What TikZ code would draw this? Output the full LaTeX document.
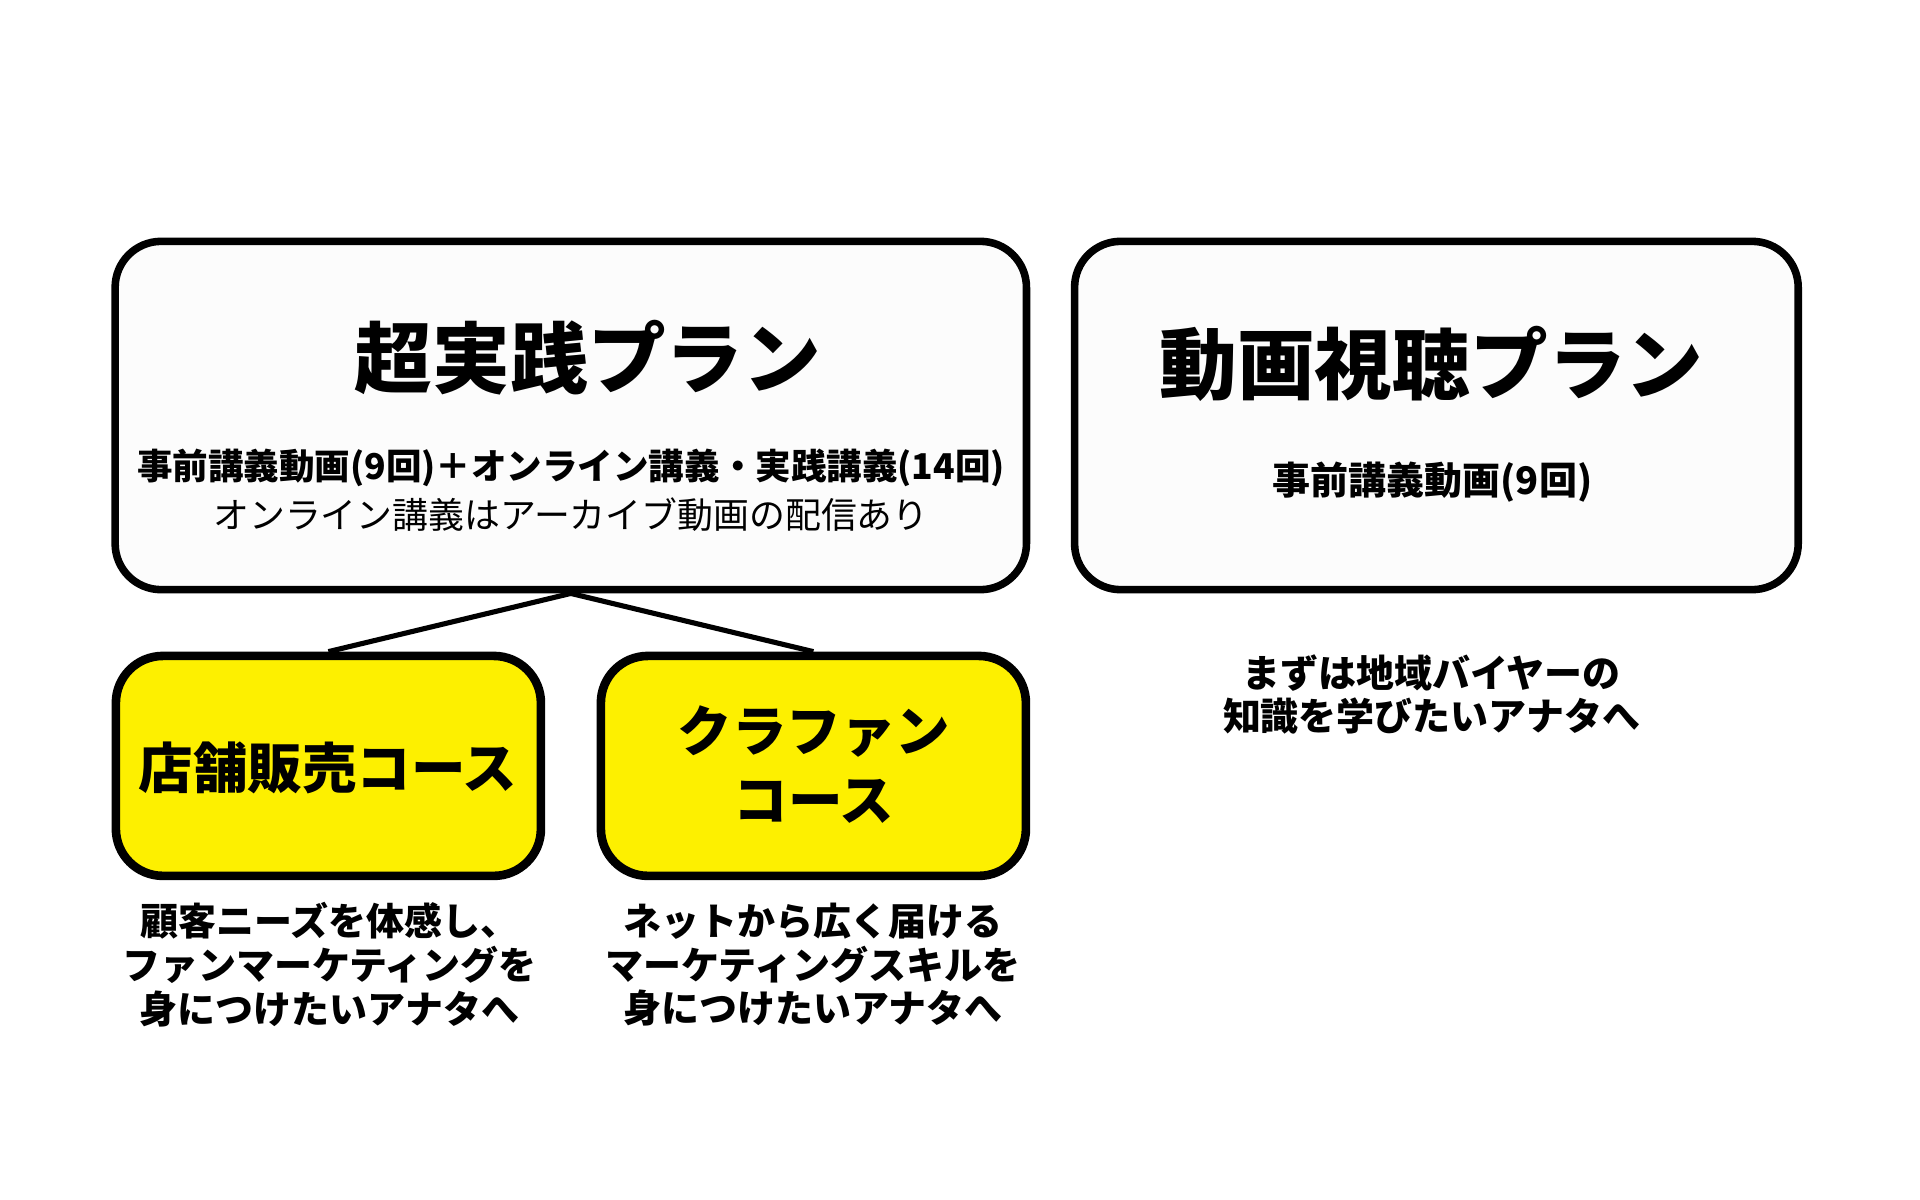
\documentclass[tikz,border=0pt]{standalone}
\usepackage{fontspec}
\setmainfont{Noto Sans CJK JP}
\usetikzlibrary{positioning}

\definecolor{boxwhite}{RGB}{252,252,252}
\definecolor{courseyellow}{RGB}{253,240,0}

\tikzset{
	planbox/.style={draw=black, line width=2.15pt, fill=boxwhite,
		rounded corners=0.46cm, inner sep=0pt, minimum height=3.481cm},
	coursebox/.style={draw=black, line width=2.45pt, fill=courseyellow,
		rounded corners=0.47cm, inner sep=0pt, minimum height=2.198cm,
		minimum width=4.248cm},
	link/.style={line width=1.45pt},
	bigtitle/.style={font=\bfseries\fontsize{22.1pt}{26pt}\selectfont, inner sep=0pt},
	coursetitle/.style={font=\bfseries\fontsize{15.5pt}{19.6pt}\selectfont, align=center, inner sep=0pt},
	subbold/.style={font=\bfseries\fontsize{10.1pt}{12pt}\selectfont, inner sep=0pt},
	subthin/.style={font=\fontsize{10.2pt}{12pt}\selectfont, inner sep=0pt},
	target/.style={font=\bfseries\fontsize{10.8pt}{12.4pt}\selectfont, align=center, inner sep=0pt},
}

\begin{document}
\begin{tikzpicture}[x=0.01cm, y=-0.01cm]

% canvas %{{{1

	\fill[white] (0,0) rectangle (1920,1200);
	\useasboundingbox (0,0) rectangle (1920,1200);

% boxes %{{{1

	\node[planbox, minimum width=9.108cm] (plan) at (570.8,415.5) {};
	\node[planbox, minimum width=7.232cm] (video) at (1436.4,415.5) {};

	\node[coursebox] (shop) at (328.4,765.9) {};
	\node[coursebox] (crowd) at (813.4,765.9) {};

% connectors %{{{1

	\draw[link] (plan.south) -- (shop.north);
	\draw[link] (plan.south) -- (crowd.north);

% box texts %{{{1

	\node[bigtitle] (plantitle) at (588,358) {超実践プラン};
	\node[subbold] (planline) at (571,467.7) {事前講義動画(9回)＋オンライン講義・実践講義(14回)};
	\node[subthin] (plannote) at (571,514.5) {オンライン講義はアーカイブ動画の配信あり};

	\node[bigtitle] (videotitle) at (1431.5,364) {動画視聴プラン};
	\node[subbold, font=\bfseries\fontsize{10.8pt}{12pt}\selectfont] (videoline) at (1432.6,482.5) {事前講義動画(9回)};

	\node[coursetitle] (shoptitle) at (328,767.5) {店舗販売コース};
	\node[coursetitle] (crowdtitle) at (814,765) {クラファン\\コース};

% target texts %{{{1

	\node[target] (shopfor) at (329.5,964.6) {顧客ニーズを体感し、\\ファンマーケティングを\\身につけたいアナタへ};
	\node[target] (crowdfor) at (813,964.6) {ネットから広く届ける\\マーケティングスキルを\\身につけたいアナタへ};
	\node[target] (videofor) at (1431.5,694.5) {まずは地域バイヤーの\\知識を学びたいアナタへ};

% closing %{{{1

\end{tikzpicture}
\end{document}
